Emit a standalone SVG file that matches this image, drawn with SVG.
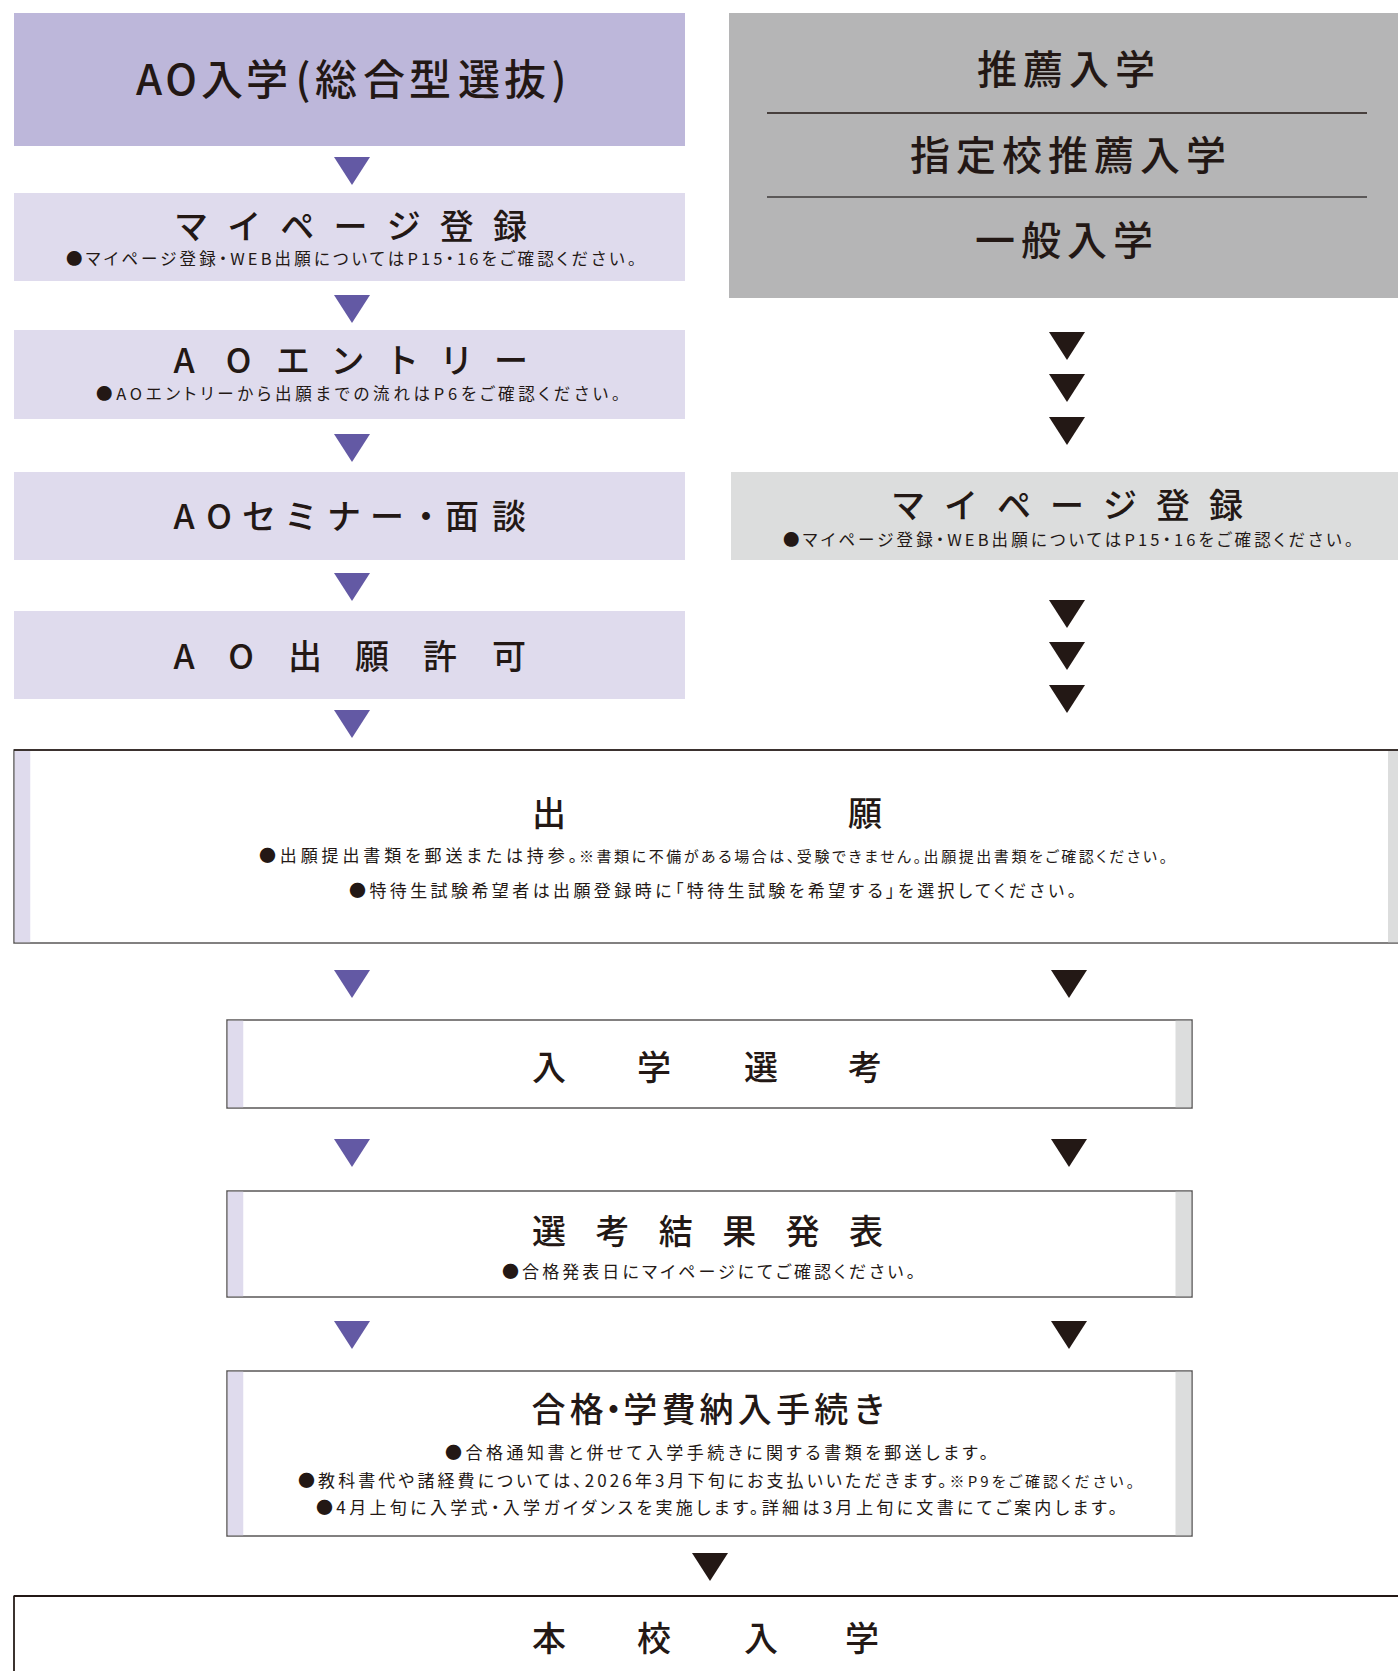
<svg xmlns="http://www.w3.org/2000/svg" xmlns:xlink="http://www.w3.org/1999/xlink" width="1398" height="1671" viewBox="0 0 1398 1671">
<defs>
<style>
text{font-family:"Noto Sans CJK JP","Noto Sans",sans-serif;fill:#231815;}
.t{font-size:34px;font-weight:500;}
.s{font-size:16.5px;font-feature-settings:"palt";}
.m{font-size:17px;font-feature-settings:"palt";}
.h{font-size:40px;font-weight:500;letter-spacing:6px;}
.lav{fill:#dfdbed;}
.gry{fill:#dcdddd;}
.box{fill:#ffffff;stroke:#595757;stroke-width:1.5;}
.p{fill:#6359a4;}
.k{fill:#231815;}
</style>
<path id="tri" d="M-18,0 L18,0 L0,28 Z"/>
</defs>

<g id="ao-header">
<rect x="14" y="13" width="671" height="133" fill="#bdb7da"/>
<text font-size="42" font-weight="500" text-anchor="middle" x="149 181 222 267 303 336 384 430 479 525 559" y="95">AO入学(総合型選抜)</text>
</g>

<g id="other-header">
<rect x="729" y="13" width="669" height="285" fill="#b5b5b6"/>
<line x1="767" y1="113" x2="1367" y2="113" stroke="#231815" stroke-width="1.5"/>
<line x1="767" y1="197" x2="1367" y2="197" stroke="#3e3a39" stroke-width="1.5"/>
<text class="h" x="977" y="84">推薦入学</text>
<text class="h" x="910" y="170">指定校推薦入学</text>
<text class="h" x="975" y="255">一般入学</text>
</g>

<g id="mypage-ao">
<rect class="lav" x="14" y="193" width="671" height="88"/>
<text class="t" text-anchor="middle" x="191 244.2 297.3 350.5 403.7 456.8 510" y="239">マイページ登録</text>
<text class="s" x="66" y="265" textLength="570" lengthAdjust="spacing">●マイページ登録・WEB出願についてはP15・16をご確認ください。</text>
</g>

<g id="ao-entry">
<rect class="lav" x="14" y="330" width="671" height="89"/>
<text class="t" text-anchor="middle" x="184 238.5 293 347.5 402 456.5 511" y="373">AOエントリー</text>
<text class="s" x="96" y="400" textLength="524" lengthAdjust="spacing">●AOエントリーから出願までの流れはP6をご確認ください。</text>
</g>

<g id="ao-seminar">
<rect class="lav" x="14" y="472" width="671" height="88"/>
<text class="t" text-anchor="middle" x="184 219 259 301 344 387 426 462 509" y="529">AOセミナー・面談</text>
</g>

<g id="ao-permit">
<rect class="lav" x="14" y="611" width="671" height="88"/>
<text class="t" text-anchor="middle" x="184 241 305 372 440 509" y="669">AO出願許可</text>
</g>

<g id="mypage-other">
<rect class="gry" x="731" y="472" width="667" height="88"/>
<text class="t" text-anchor="middle" x="908 961 1014 1067 1120 1173 1226" y="518">マイページ登録</text>
<text class="s" x="783" y="546" textLength="570" lengthAdjust="spacing">●マイページ登録・WEB出願についてはP15・16をご確認ください。</text>
</g>

<g id="application">
<rect class="box" x="14" y="750" width="1400" height="193"/>
<rect class="lav" x="14.75" y="751" width="15.5" height="191.25"/>
<rect class="gry" x="1388" y="751" width="10" height="191.25"/>
<line x1="14" y1="750" x2="1398" y2="750" stroke="#231815" stroke-width="1.5"/>
<text class="t" text-anchor="middle" x="549 865" y="826">出願</text>
<text class="m" y="861.5"><tspan x="259" textLength="318" lengthAdjust="spacing">●出願提出書類を郵送または持参。</tspan><tspan x="579" font-size="15" textLength="588" lengthAdjust="spacing">※書類に不備がある場合は、受験できません。出願提出書類をご確認ください。</tspan></text>
<text class="m" x="349" y="896.5" textLength="727" lengthAdjust="spacing">●特待生試験希望者は出願登録時に「特待生試験を希望する」を選択してください。</text>
</g>

<g id="selection">
<rect class="box" x="227" y="1020" width="965" height="88"/>
<rect class="lav" x="227.75" y="1020.75" width="15.5" height="86.5"/>
<rect class="gry" x="1175.5" y="1020.75" width="15.75" height="86.5"/>
<text class="t" text-anchor="middle" x="549 654 761 865" y="1080">入学選考</text>
</g>

<g id="result">
<rect class="box" x="227" y="1191" width="965" height="106"/>
<rect class="lav" x="227.75" y="1191.75" width="15.5" height="104.5"/>
<rect class="gry" x="1175.5" y="1191.75" width="15.75" height="104.5"/>
<text class="t" text-anchor="middle" x="549 612.4 675.8 739.2 802.6 866" y="1244">選考結果発表</text>
<text class="m" x="502" y="1277.5" textLength="413" lengthAdjust="spacing">●合格発表日にマイページにてご確認ください。</text>
</g>

<g id="procedure">
<rect class="box" x="227" y="1371" width="965" height="165"/>
<rect class="lav" x="227.75" y="1371.75" width="15.5" height="163.5"/>
<rect class="gry" x="1175.5" y="1371.75" width="15.75" height="163.5"/>
<text class="t" text-anchor="middle" x="548.5 586.7 613.5 640.2 678.4 716.6 754.8 793 831.2 869.4" y="1422">合格・学費納入手続き</text>
<text class="m" x="445" y="1458.5" textLength="543" lengthAdjust="spacing">●合格通知書と併せて入学手続きに関する書類を郵送します。</text>
<text class="m" x="298" y="1486.5" textLength="836" lengthAdjust="spacing">●教科書代や諸経費については、2026年3月下旬にお支払いいただきます。<tspan font-size="15">※P9をご確認ください。</tspan></text>
<text class="m" x="316" y="1513.5" textLength="801" lengthAdjust="spacing">●4月上旬に入学式・入学ガイダンスを実施します。詳細は3月上旬に文書にてご案内します。</text>
</g>

<g id="enrollment">
<rect class="box" x="14" y="1596" width="1400" height="100"/>
<line x1="14" y1="1596" x2="1398" y2="1596" stroke="#231815" stroke-width="2"/>
<line x1="14" y1="1596" x2="14" y2="1671" stroke="#231815" stroke-width="1.5"/>
<text class="t" text-anchor="middle" x="549 654 761 862" y="1651">本校入学</text>
</g>

<g id="connectors">
<use xlink:href="#tri" class="p" x="352" y="157"/>
<use xlink:href="#tri" class="p" x="352" y="295"/>
<use xlink:href="#tri" class="p" x="352" y="434"/>
<use xlink:href="#tri" class="p" x="352" y="573"/>
<use xlink:href="#tri" class="p" x="352" y="710"/>
<use xlink:href="#tri" class="p" x="352" y="970"/>
<use xlink:href="#tri" class="p" x="352" y="1139"/>
<use xlink:href="#tri" class="p" x="352" y="1321"/>
<use xlink:href="#tri" class="k" x="1067" y="332"/>
<use xlink:href="#tri" class="k" x="1067" y="374"/>
<use xlink:href="#tri" class="k" x="1067" y="417"/>
<use xlink:href="#tri" class="k" x="1067" y="600"/>
<use xlink:href="#tri" class="k" x="1067" y="642"/>
<use xlink:href="#tri" class="k" x="1067" y="685"/>
<use xlink:href="#tri" class="k" x="1069" y="970"/>
<use xlink:href="#tri" class="k" x="1069" y="1139"/>
<use xlink:href="#tri" class="k" x="1069" y="1321"/>
<use xlink:href="#tri" class="k" x="710" y="1553"/>
</g>
</svg>
